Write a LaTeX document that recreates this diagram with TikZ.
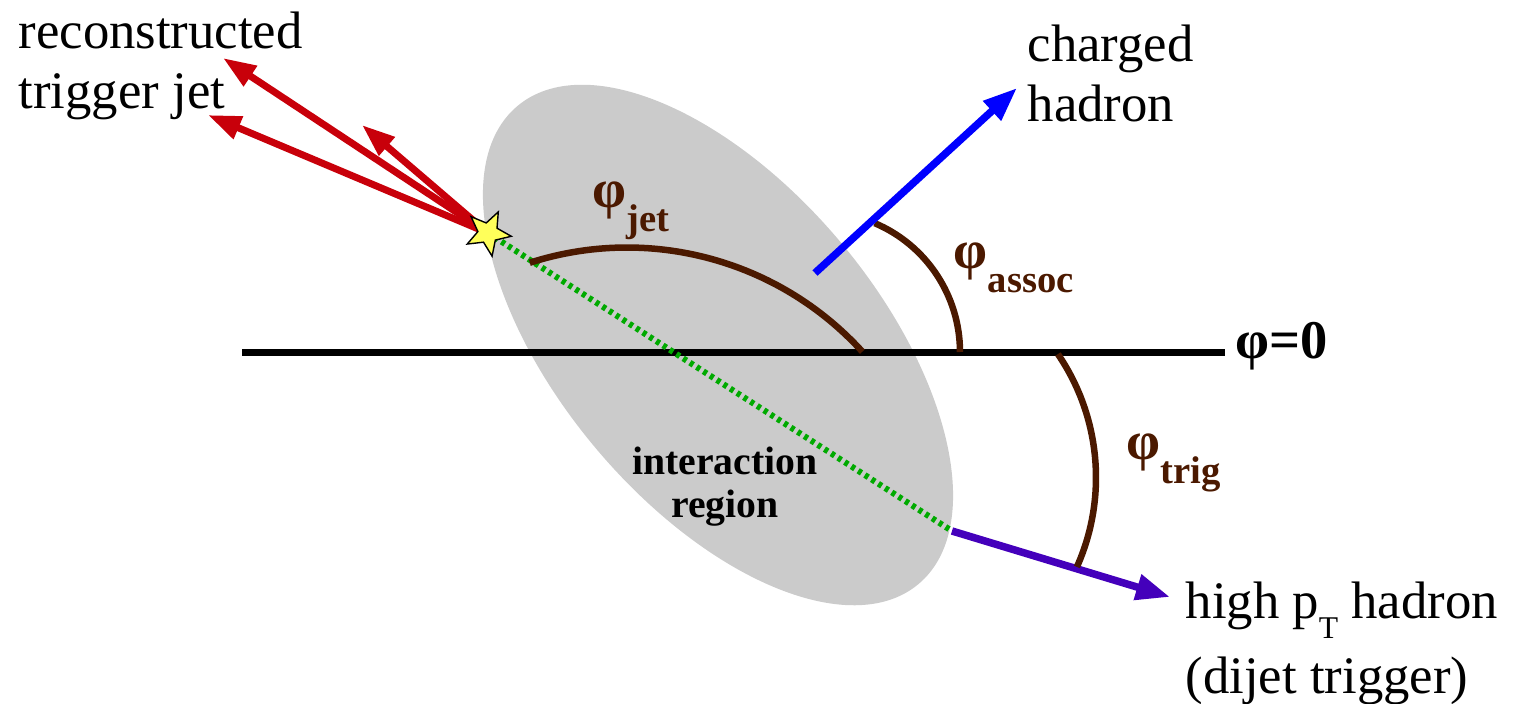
\documentclass[tikz,border=0pt]{standalone}
\usepackage{fontspec}
\setmainfont{Liberation Serif}
\definecolor{RegionGray}{RGB}{203,203,203}
\definecolor{JetRed}{RGB}{200,0,10}
\definecolor{HadronBlue}{RGB}{0,0,255}
\definecolor{TrigPurple}{RGB}{68,0,187}
\definecolor{PathGreen}{RGB}{0,170,0}
\definecolor{AngleBrown}{RGB}{75,25,0}
\definecolor{StarYellow}{RGB}{255,255,90}
\usepackage{tikz}
\usetikzlibrary{arrows.meta, shapes.geometric}
\newcommand{\phisub}[1]{φ\raisebox{-7pt}{\fontsize{11}{11}\selectfont #1}}

\begin{document}
\begin{tikzpicture}[
  anglearc/.style={line width=0.065cm, AngleBrown},
  jetarrow/.style={-{Triangle[length=0.33cm, width=0.23cm]}, line width=0.07cm, JetRed},
  hadarrow/.style={-{Triangle[length=0.34cm, width=0.25cm]}, line width=0.075cm},
  txt/.style={font=\fontsize{15}{17}\selectfont, inner sep=0pt, align=left},
  anglelabel/.style={font=\bfseries\fontsize{15.5}{16}\selectfont, AngleBrown, inner sep=0pt, anchor=base west}
]
\useasboundingbox (0,0) rectangle (15.14,7.03);

% interaction region
\node[ellipse, fill=RegionGray, inner sep=0pt, minimum width=6.24cm, minimum height=3.2cm, rotate=-50] (region) at (7.18,3.58) {};
\node[font=\bfseries\fontsize{11.3}{12.2}\selectfont, align=center, inner sep=0pt, anchor=north] (regionlbl) at (7.25,2.57) {interaction\\region};

% phi = 0 axis
\coordinate (axisL) at (2.42,3.51);
\coordinate (axisR) at (12.25,3.51);
\draw[line width=0.07cm] (axisL) -- (axisR);
\node[font=\bfseries\fontsize{15.5}{16}\selectfont, inner sep=0pt, anchor=base west] (phizero) at (12.35,3.45) {φ=0};

% points
\coordinate (vtx) at (4.88,4.70);
\coordinate (jet1) at (2.23,6.45);
\coordinate (jet2) at (2.08,5.88);
\coordinate (jet3) at (3.62,5.78);
\coordinate (hstart) at (8.15,4.30);
\coordinate (hend) at (10.17,6.15);
\coordinate (exit) at (9.52,1.72);
\coordinate (trig) at (11.70,1.06);

% back-to-back path
\draw[PathGreen, line width=0.06cm, dash pattern=on 0.04cm off 0.04cm] (vtx) -- (exit);
\draw[hadarrow, TrigPurple] (exit) -- (trig);

% angles
\draw[anglearc] (6.27,1.375) ++(107.8:3.18) arc[start angle=107.8, end angle=42.26, radius=3.18];
\draw[anglearc] (8.20,3.51) ++(67:1.40) arc[start angle=67, end angle=0, radius=1.40];
\draw[anglearc] (8.77,2.255) ++(34.3:2.19) arc[start angle=34.3, end angle=-24.1, radius=2.19];

% associated hadron
\draw[hadarrow, HadronBlue] (hstart) -- (hend);

% trigger jet
\draw[jetarrow] (vtx) -- (jet1);
\draw[jetarrow] (vtx) -- (jet2);
\draw[jetarrow] (vtx) -- (jet3);
\node[star, star points=5, star point ratio=2.3, minimum size=0.47cm, inner sep=0pt, fill=StarYellow, draw=black, thin, rotate=-26] (vtxstar) at (vtx) {};

% labels
\node[anglelabel] (phijet) at (5.92,4.96) {\phisub{jet}};
\node[anglelabel] (phiassoc) at (9.53,4.35) {\phisub{assoc}};
\node[anglelabel] (phitrig) at (11.26,2.44) {\phisub{trig}};

\node[txt, anchor=north west] (jetlbl) at (0.18,6.92) {reconstructed\\trigger jet};
\node[txt, anchor=north west] (hadlbl) at (10.27,6.79) {charged\\hadron};
\node[txt, anchor=north west] (triglbl) at (11.85,1.22) {high p\raisebox{-5.7pt}{\fontsize{9}{9}\selectfont T} hadron\\[4.3pt](dijet trigger)};
\end{tikzpicture}
\end{document}
